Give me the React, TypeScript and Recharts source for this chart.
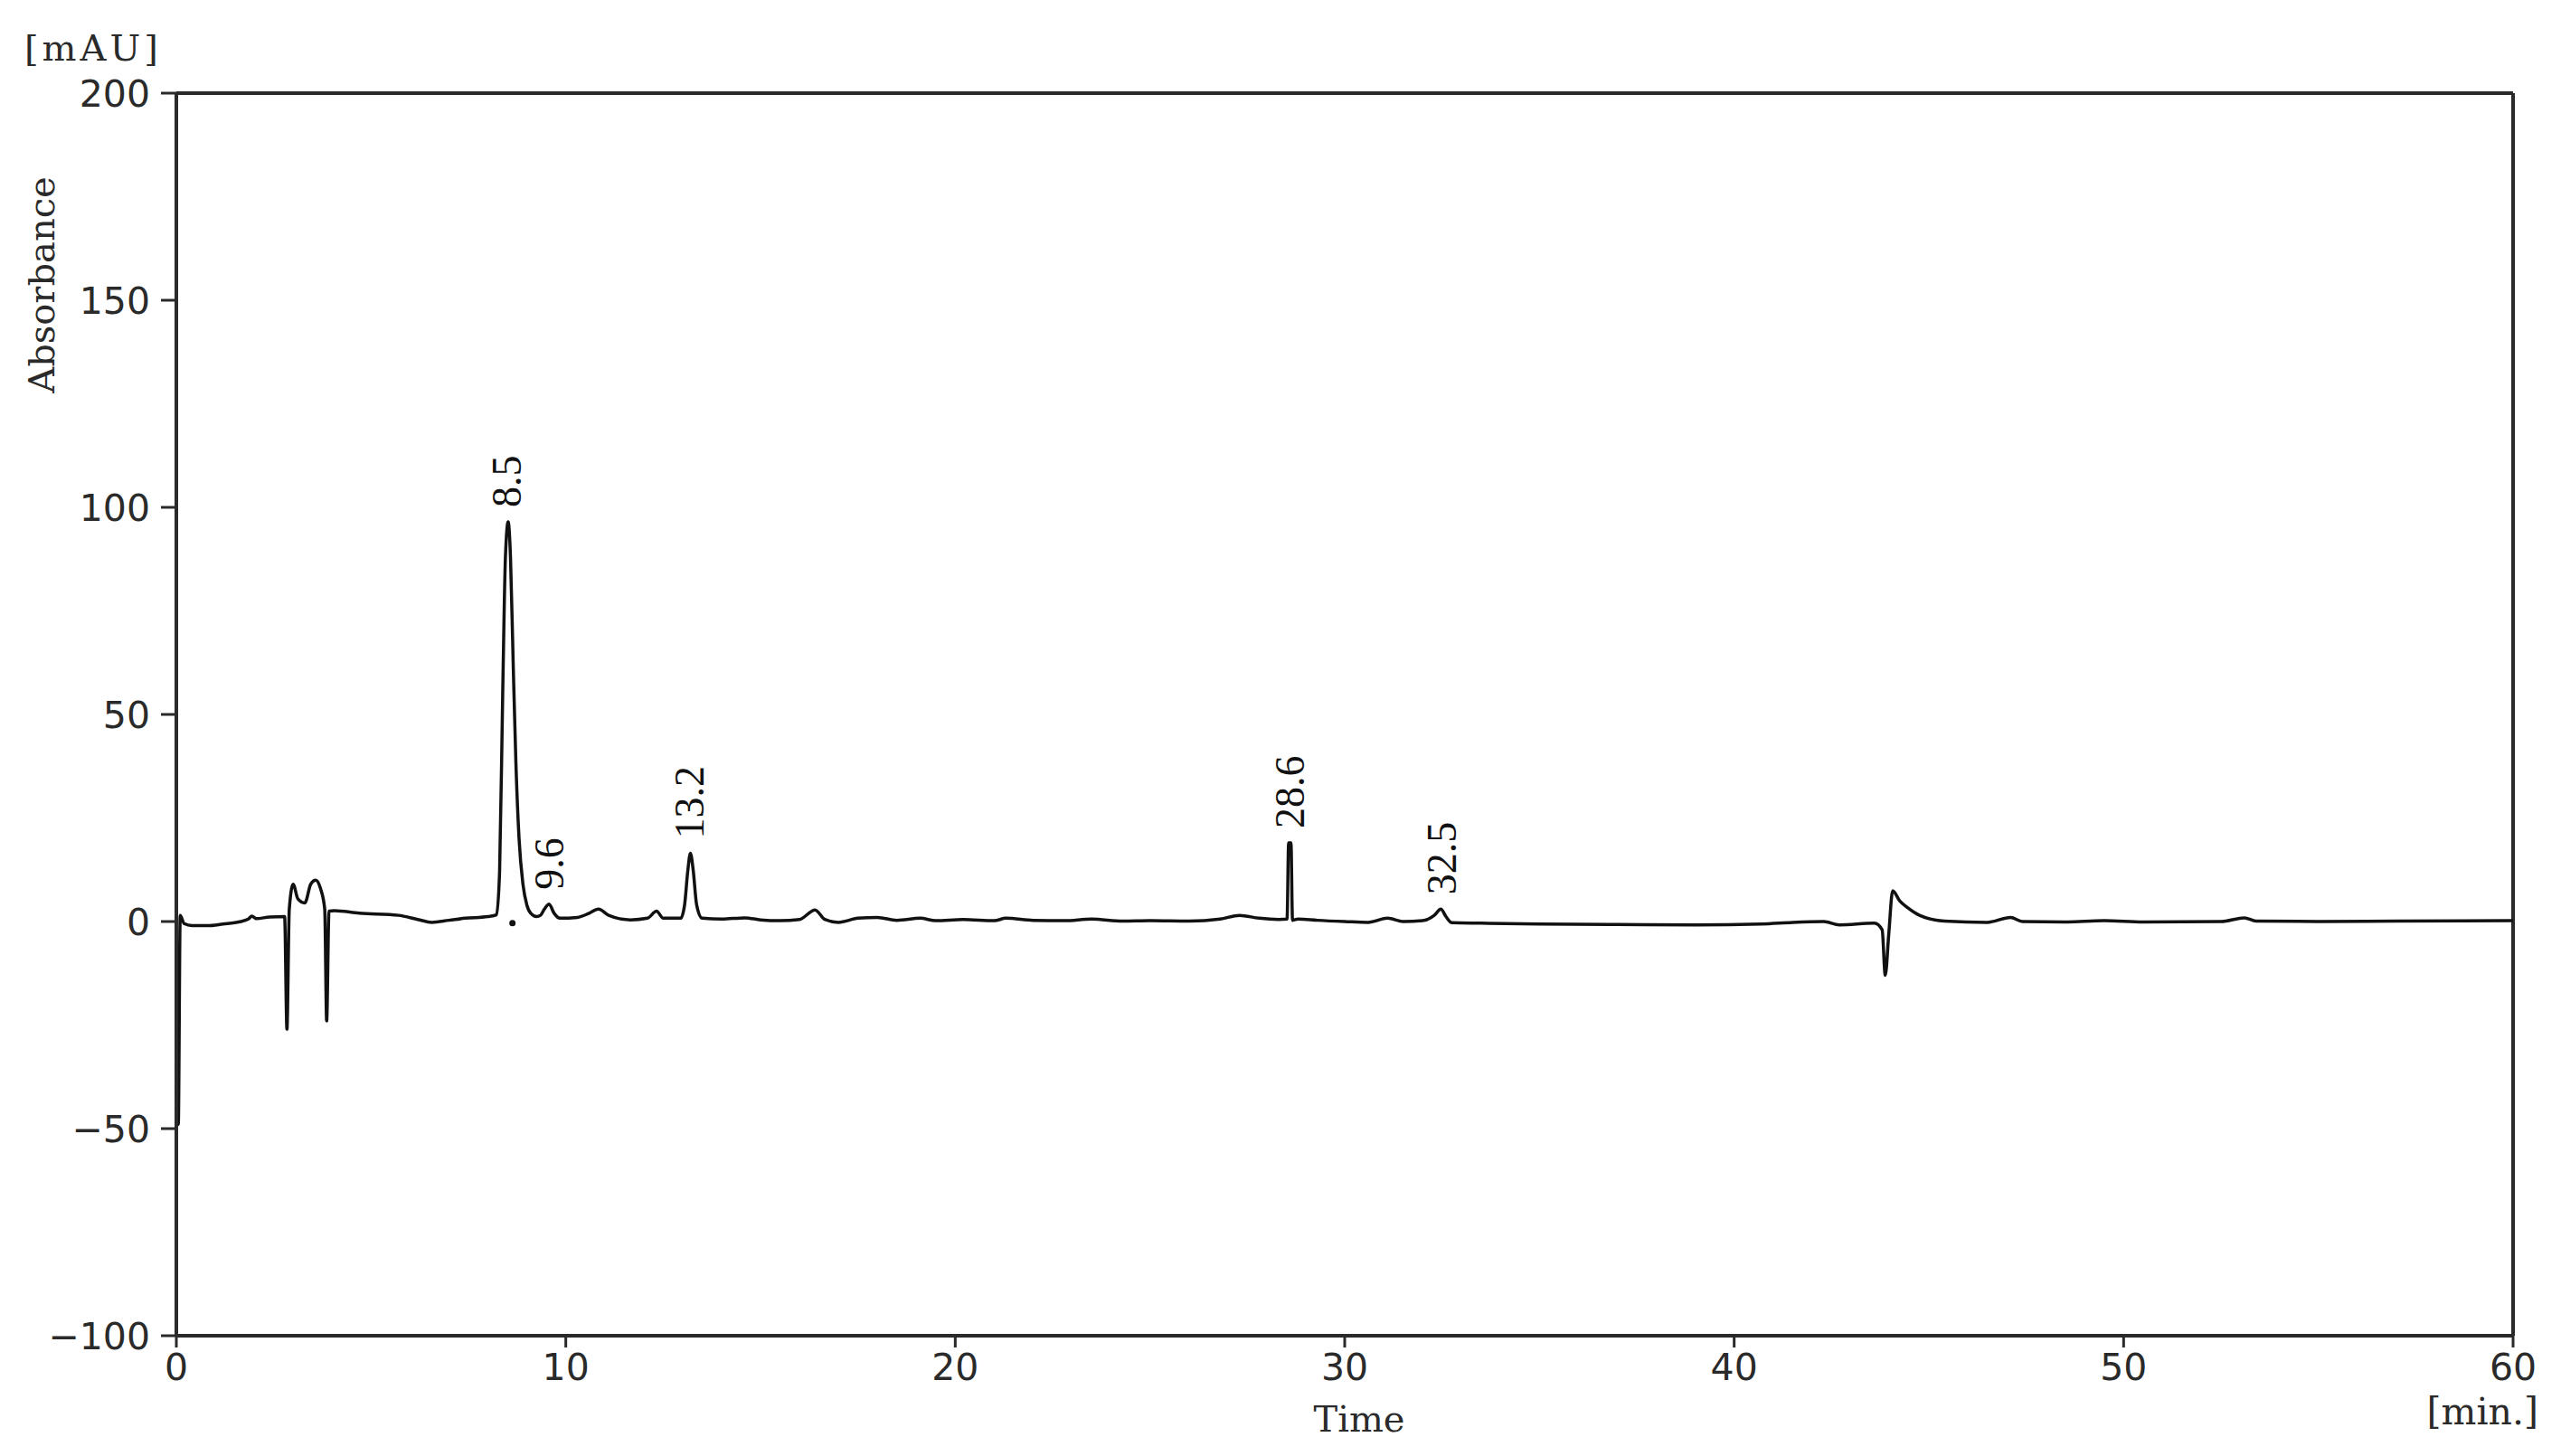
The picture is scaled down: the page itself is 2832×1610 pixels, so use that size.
import React from "react";
import {
  ComposedChart,
  Customized,
  Line,
  ReferenceLine,
  Scatter,
  XAxis,
  YAxis,
} from "recharts";

// trace, time [min] / absorbance [mAU]
const times = [
  0, 0.05, 0.1, 0.2, 0.4, 0.8, 1.2, 1.6, 1.85, 1.94, 2.05, 2.4, 2.78,
  2.84, 2.9, 3.0, 3.12, 3.3, 3.45, 3.58, 3.7, 3.81, 3.86, 3.92, 4.06, 4.7,
  5.7, 6.2, 6.56, 7.0, 7.42, 8.0, 8.22, 8.3, 8.38, 8.45, 8.52, 8.58, 8.65,
  8.72, 8.8, 8.9, 9.0, 9.1, 9.25, 9.35, 9.45, 9.57, 9.7, 9.85, 10.3, 10.6,
  10.84, 11.1, 11.66, 12.1, 12.33, 12.5, 12.95, 13.05, 13.13, 13.2, 13.27,
  13.36, 13.5, 14.0, 14.6, 15.0, 15.5, 16.0, 16.4, 16.65, 17.0, 17.5, 18.0,
  18.5, 19.1, 19.5, 20.2, 21.0, 21.3, 22.0, 22.8, 23.5, 24.3, 25.0, 26.0,
  26.8, 27.3, 27.8, 28.3, 28.52, 28.56, 28.62, 28.66, 28.8, 29.3, 30.0,
  30.6, 31.1, 31.5, 32.0, 32.3, 32.47, 32.6, 32.75, 33.5, 35.0, 37.0, 39.0,
  40.7, 41.5, 42.3, 42.7, 43.6, 43.8, 43.88, 43.97, 44.07, 44.25, 44.46,
  44.76, 45.4, 46.5, 47.1, 47.4, 48.5, 49.5, 50.5, 52.5, 53.1, 53.4, 55.0,
  57.0, 60.0,
];
const absorbance = [
  0, -49, 1.5, -0.5, -1, -1, -0.6, -0.1, 0.6, 1.3, 0.7, 1.1, 1.2,
  -26, 3, 9, 5.5, 4.5, 9, 10, 8, 3, -24, 2.5, 2.6, 2.0,
  1.5, 0.5, -0.2, 0.3, 0.8, 1.2, 1.6, 12, 55, 88, 96.5, 88, 62,
  38, 20, 9, 4, 2, 1.2, 1.5, 3, 4.2, 2, 0.8, 1.0, 2,
  3.0, 1.5, 0.4, 0.8, 2.5, 0.8, 0.8, 4, 12, 16.5, 12.5,
  4, 0.8, 0.6, 0.9, 0.4, 0.2, 0.5, 2.8, 0.5, -0.2, 0.8, 1.0,
  0.3, 0.8, 0.2, 0.5, 0.2, 0.8, 0.3, 0.2, 0.6, 0.1, 0.2, 0.1,
  0.6, 1.5, 0.8, 0.5, 0.6, 19, 19, 0.3, 0.6, 0.3, 0.0,
  -0.2, 0.8, 0.0, 0.2, 1.5, 3.0, 1.2, -0.3, -0.4, -0.6, -0.7, -0.8,
  -0.6, -0.2, 0.0, -0.8, -0.4, -2, -13, -3, 7.4, 5, 3.3,
  1.5, 0.1, -0.2, 1.0, 0.0, -0.1, 0.2, -0.1, 0.0, 0.9, 0.1, 0.0,
  0.1, 0.2,
];

// labelled peaks
const peakTimes = [8.5, 9.6, 13.2, 28.6, 32.5];
const peakHeights = [96.5, 4.2, 16.5, 19, 3];

// small integration mark at the foot of the 8.5 peak
const markTimes = [8.63];
const markValues = [-0.4];

const xTicks = [0, 10, 20, 30, 40, 50, 60];
const yTicks = [-100, -50, 0, 50, 100, 150, 200];

const trace = times.map((t, i) => ({ t, v: absorbance[i] }));
const peaks = peakTimes.map((t, i) => ({ t, v: peakHeights[i] }));
const marks = markTimes.map((t, i) => ({ t, v: markValues[i] }));

const INK = "#2a2a2a";
const SERIF = "'DejaVu Serif', serif";
const SANS = "'DejaVu Sans', sans-serif";

const PeakLabel = (props: any) => {
  const { cx, cy, payload } = props;
  if (cx == null || cy == null) return null;
  const x = cx + 15;
  const y = cy - 16;
  return (
    <text
      x={x}
      y={y}
      transform={`rotate(-90, ${x}, ${y})`}
      fontFamily="'Liberation Serif', serif"
      fontSize={46}
      fill="#111"
      textAnchor="start"
    >
      {payload.t.toFixed(1)}
    </text>
  );
};

const MarkDot = (props: any) => {
  const { cx, cy } = props;
  if (cx == null || cy == null) return null;
  return <circle cx={cx} cy={cy} r={3.5} fill="#111" />;
};

const Titles = () => (
  <g fill={INK} fontFamily={SERIF}>
    <text x={27} y={67} fontSize={40} letterSpacing={4}>
      [mAU]
    </text>
    <text
      x={60}
      y={315}
      fontSize={40}
      textAnchor="middle"
      transform="rotate(-90, 60, 315)"
    >
      Absorbance
    </text>
    <text x={1503} y={1583} fontSize={40} textAnchor="middle">
      Time
    </text>
    <text x={2807} y={1575} fontSize={41} textAnchor="end">
      [min.]
    </text>
  </g>
);

const fmt = (v: number) => (v < 0 ? `\u2212${-v}` : `${v}`);

export default function App() {
  return (
    <div style={{ position: "absolute", left: 0, top: 0, background: "#fff" }}>
      <ComposedChart
        width={2832}
        height={1610}
        data={trace}
        margin={{ top: 103, right: 53, left: 0, bottom: 0 }}
      >
        <XAxis
          dataKey="t"
          type="number"
          domain={[0, 60]}
          ticks={xTicks}
          allowDataOverflow
          height={133}
          tickSize={13}
          tickMargin={7}
          axisLine={{ stroke: INK, strokeWidth: 4 }}
          tickLine={{ stroke: INK, strokeWidth: 3 }}
          tick={{ fill: INK, fontSize: 41, fontFamily: SANS }}
        />
        <YAxis
          type="number"
          domain={[-100, 200]}
          ticks={yTicks}
          allowDataOverflow
          width={195}
          tickSize={17}
          tickMargin={12}
          tickFormatter={fmt}
          axisLine={{ stroke: INK, strokeWidth: 4 }}
          tickLine={{ stroke: INK, strokeWidth: 3 }}
          tick={{ fill: INK, fontSize: 41, fontFamily: SANS }}
        />
        <ReferenceLine y={200} stroke={INK} strokeWidth={4} />
        <ReferenceLine x={60} stroke={INK} strokeWidth={4} />
        <Line
          dataKey="v"
          type="monotone"
          stroke="#111"
          strokeWidth={3.5}
          strokeLinejoin="round"
          dot={false}
          activeDot={false}
          isAnimationActive={false}
        />
        <Scatter
          data={marks}
          dataKey="v"
          shape={MarkDot}
          isAnimationActive={false}
        />
        <Scatter
          data={peaks}
          dataKey="v"
          shape={PeakLabel}
          isAnimationActive={false}
        />
        <Customized component={Titles} />
      </ComposedChart>
    </div>
  );
}
